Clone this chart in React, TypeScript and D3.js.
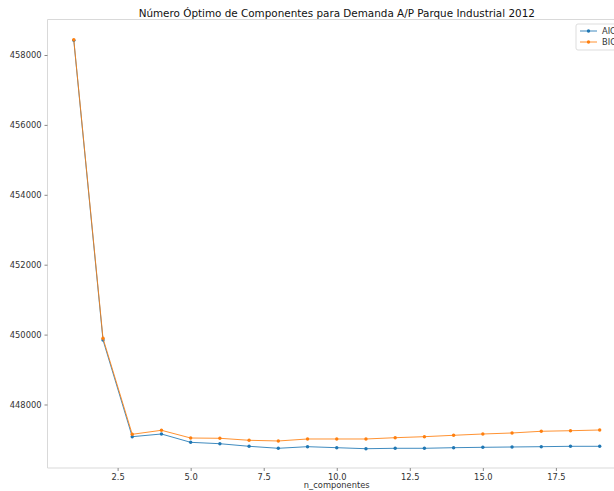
import React, { useEffect, useRef } from "react";
import * as d3 from "d3";

const nComponentes = [1, 2, 3, 4, 5, 6, 7, 8, 9, 10, 11, 12, 13, 14, 15, 16, 17, 18, 19];
const aicValues = [
    458420, 449845, 447079, 447156, 446918, 446878, 446804, 446747, 446793, 446764,
    446735, 446747, 446747, 446764, 446775, 446784, 446793, 446804, 446804,
];
const bicValues = [
    458440, 449894, 447147, 447262, 447041, 447033, 446976, 446956, 447013, 447013,
    447013, 447050, 447079, 447119, 447156, 447185, 447234, 447250, 447270,
];
const xTicks = [2.5, 5, 7.5, 10, 12.5, 15, 17.5];
const yTicks = [448000, 450000, 452000, 454000, 456000, 458000];
const seriesNames = ["AIC", "BIC"];
const seriesColors = ["#1f77b4", "#ff7f0e"];

const ElbowChart = () => {
    const chartRef = useRef<HTMLDivElement>(null);

    useEffect(() => {
        const width = 614;
        const height = 491;
        const margin = { top: 19.5, right: -12, bottom: 23, left: 47.5 };
        const font = "'DejaVu Sans', sans-serif";

        d3.select(chartRef.current).select("svg").remove();

        const svg = d3
            .select(chartRef.current)
            .append("svg")
            .attr("width", width)
            .attr("height", height)
            .style("display", "block")
            .style("background", "#fff");

        // matplotlib-style 5% padding around the data
        const xScale = d3
            .scaleLinear()
            .domain([0.1, 19.9])
            .range([margin.left, width - margin.right]);

        const yScale = d3
            .scaleLinear()
            .domain([446183, 459016])
            .range([height - margin.bottom, margin.top]);

        const spine = "#d9d9d9";
        const plotBottom = height - margin.bottom;

        // spines
        svg.append("line")
            .attr("x1", margin.left).attr("x2", width)
            .attr("y1", margin.top).attr("y2", margin.top)
            .attr("stroke", spine);
        svg.append("line")
            .attr("x1", margin.left).attr("x2", width)
            .attr("y1", plotBottom).attr("y2", plotBottom)
            .attr("stroke", spine);
        svg.append("line")
            .attr("x1", margin.left).attr("x2", margin.left)
            .attr("y1", margin.top).attr("y2", plotBottom)
            .attr("stroke", spine);

        const xAxis = svg.append("g")
            .attr("transform", `translate(0,${plotBottom})`)
            .call(d3.axisBottom(xScale).tickValues(xTicks).tickFormat(d3.format(".1f")).tickSizeOuter(0).tickSize(3).tickPadding(3));

        const yAxis = svg.append("g")
            .attr("transform", `translate(${margin.left},0)`)
            .call(d3.axisLeft(yScale).tickValues(yTicks).tickFormat(d3.format("d")).tickSizeOuter(0).tickSize(3).tickPadding(3));

        [xAxis, yAxis].forEach((ax) => {
            ax.select(".domain").remove();
            ax.selectAll("line").attr("stroke", "#888");
            ax.selectAll("text")
                .attr("fill", "#333")
                .style("font-family", font)
                .style("font-size", "8.3px");
        });

        svg.append("text")
            .attr("x", (margin.left + width - margin.right) / 2)
            .attr("y", 16.5)
            .attr("text-anchor", "middle")
            .attr("fill", "#111")
            .style("font-family", font)
            .style("font-size", "10.4px")
            .text("Número Óptimo de Componentes para Demanda A/P Parque Industrial 2012");

        svg.append("text")
            .attr("x", (margin.left + width - margin.right) / 2)
            .attr("y", 488)
            .attr("text-anchor", "middle")
            .attr("fill", "#333")
            .style("font-family", font)
            .style("font-size", "8.3px")
            .text("n_componentes");

        const series = [aicValues, bicValues];
        const line = d3.line<number>()
            .x((_, i) => xScale(nComponentes[i]))
            .y((d) => yScale(d));

        series.forEach((values, s) => {
            svg.append("path")
                .datum(values)
                .attr("d", line)
                .attr("fill", "none")
                .attr("stroke", seriesColors[s])
                .attr("stroke-opacity", 0.85)
                .attr("stroke-width", 1);

            svg.selectAll(`.dot${s}`)
                .data(values)
                .enter()
                .append("circle")
                .attr("cx", (_, i) => xScale(nComponentes[i]))
                .attr("cy", (d) => yScale(d))
                .attr("r", 1.7)
                .attr("fill", seriesColors[s]);
        });

        // legend (cut off by the right edge, as in the reference)
        const legend = svg.append("g").attr("transform", "translate(576,24)");
        legend.append("rect")
            .attr("x", 0).attr("y", 0)
            .attr("width", 60).attr("height", 26)
            .attr("rx", 2)
            .attr("fill", "#fff")
            .attr("fill-opacity", 0.8)
            .attr("stroke", "#ddd");

        seriesNames.forEach((name, s) => {
            const y = 7 + s * 11;
            legend.append("line")
                .attr("x1", 4).attr("x2", 21)
                .attr("y1", y).attr("y2", y)
                .attr("stroke", seriesColors[s])
                .attr("stroke-opacity", 0.85);
            legend.append("circle")
                .attr("cx", 12.5).attr("cy", y)
                .attr("r", 1.7)
                .attr("fill", seriesColors[s]);
            legend.append("text")
                .attr("x", 26)
                .attr("y", y + 3)
                .attr("fill", "#333")
                .style("font-family", font)
                .style("font-size", "8.3px")
                .text(name);
        });
    }, []);

    return <div ref={chartRef} style={{ position: "absolute", left: 0, top: 0, width: 614, height: 491, overflow: "hidden" }}></div>;
};

export default function App() {
    return <ElbowChart />;
}
